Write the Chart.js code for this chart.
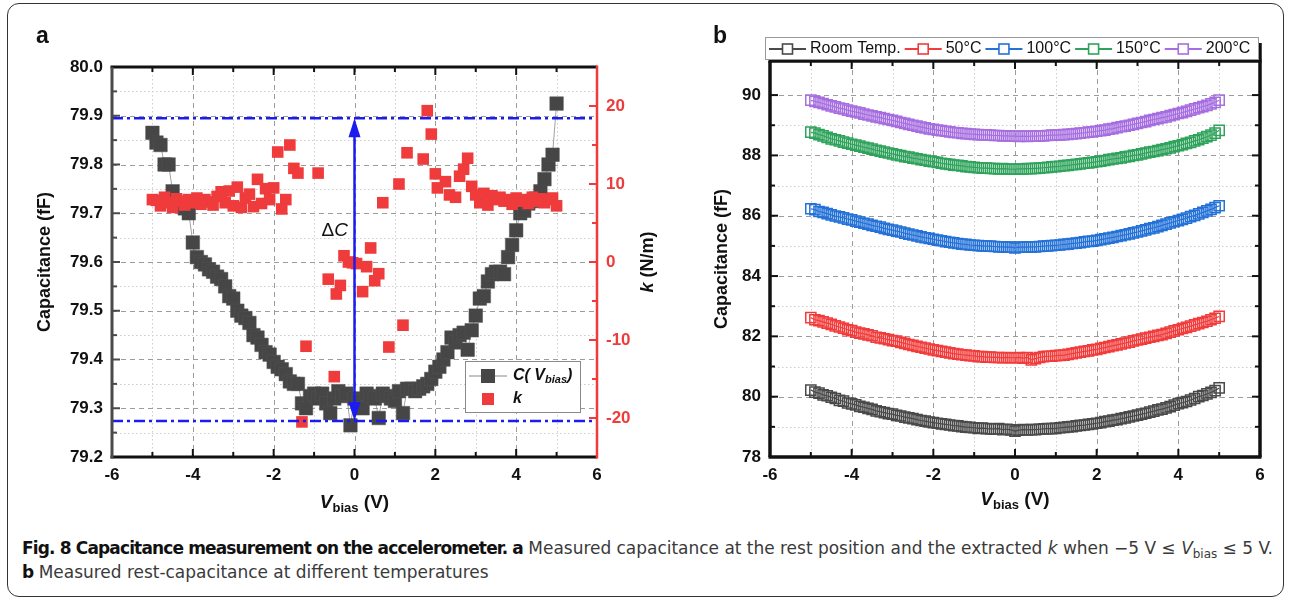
<!DOCTYPE html>
<html>
<head>
<meta charset="utf-8">
<script src="https://cdn.jsdelivr.net/npm/chart.js@4.4.1/dist/chart.umd.min.js"></script>
<style>
  body { margin: 0; width: 1291px; height: 604px; overflow: hidden; position: relative; background: #fff;
         font-family: "Liberation Sans", Arial, sans-serif; }
  #frame { position: absolute; left: 7px; top: 3px; width: 1275px; height: 592px; border: 1.5px solid #333; border-radius: 12px; }
  #ca { position: absolute; left: 0; top: 0; }
  #cb { position: absolute; left: 680px; top: 0; }
  .panel { position: absolute; font-weight: bold; font-size: 23px; color: #111; }
  #cap { position: absolute; left: 22px; top: 536px; font-family: "Liberation Sans Narrow", "DejaVu Sans Condensed", sans-serif;
         font-size: 17px; line-height: 24px; color: #3a3a3a; white-space: nowrap; transform-origin: 0 0; }
  #cap b { color: #111; letter-spacing: -0.75px; }
  #cap sub { font-size: 12px; line-height: 0; }
</style>
</head>
<body>
<div id="frame"></div>
<canvas id="ca" width="680" height="530"></canvas>
<canvas id="cb" width="611" height="530"></canvas>
<div class="panel" style="left:36px;top:22px">a</div>
<div class="panel" style="left:713px;top:22px">b</div>
<div id="cap"><b>Fig. 8 Capacitance measurement on the accelerometer. a</b> Measured capacitance at the rest position and the extracted <i>k</i> when −5 V ≤ <i>V</i><sub>bias</sub> ≤ 5 V.<br><b>b</b> Measured rest-capacitance at different temperatures</div>

<script>
// ---- data ----
const vBias = [-5.0,-4.9,-4.8,-4.7,-4.6,-4.5,-4.4,-4.3,-4.2,-4.1,-4.0,-3.9,-3.8,-3.7,-3.6,-3.5,-3.4,-3.3,-3.2,-3.1,
  -3.0,-2.9,-2.8,-2.7,-2.6,-2.5,-2.4,-2.3,-2.2,-2.1,-2.0,-1.9,-1.8,-1.7,-1.6,-1.5,-1.4,-1.3,-1.2,-1.1,
  -1.0,-0.9,-0.8,-0.7,-0.6,-0.5,-0.4,-0.3,-0.2,-0.1,0.0,0.1,0.2,0.3,0.4,0.5,0.6,0.7,0.8,0.9,
  1.0,1.1,1.2,1.3,1.4,1.5,1.6,1.7,1.8,1.9,2.0,2.1,2.2,2.3,2.4,2.5,2.6,2.7,2.8,2.9,
  3.0,3.1,3.2,3.3,3.4,3.5,3.6,3.7,3.8,3.9,4.0,4.1,4.2,4.3,4.4,4.5,4.6,4.7,4.8,4.9,5.0];

// panel a: C(Vbias), fF
const capA = [79.865,79.845,79.84,79.80,79.80,79.745,79.72,79.715,79.71,79.70,
  79.64,79.61,79.60,79.595,79.585,79.58,79.57,79.565,79.55,79.53,
  79.525,79.50,79.49,79.485,79.475,79.45,79.445,79.43,79.415,79.41,
  79.395,79.385,79.38,79.37,79.355,79.35,79.35,79.31,79.30,79.325,
  79.33,79.32,79.33,79.31,79.29,79.32,79.335,79.325,79.33,79.265,
  79.32,79.315,79.30,79.33,79.325,79.32,79.28,79.33,79.325,79.32,
  79.315,79.335,79.29,79.34,79.34,79.335,79.34,79.345,79.35,79.36,
  79.375,79.385,79.40,79.415,79.445,79.435,79.45,79.455,79.42,79.46,
  79.49,79.525,79.53,79.56,79.575,79.58,79.58,79.575,79.61,79.635,
  79.665,79.70,79.705,79.72,79.725,79.73,79.745,79.77,79.80,79.82,79.925];

// panel a: extracted k, N/m
const kBias = [-5.0,-4.9,-4.8,-4.7,-4.6,-4.5,-4.4,-4.3,-4.2,-4.1,-4.0,-3.9,-3.8,-3.7,-3.6,-3.5,-3.4,-3.3,-3.2,-3.1,
  -3.0,-2.9,-2.8,-2.7,-2.6,-2.5,-2.4,-2.3,-2.2,-2.1,-2.0,-1.9,-1.8,-1.7,-1.6,-1.5,-1.4,-1.3,-1.2,-0.9,
  -0.65,-0.5,-0.45,-0.35,-0.26,-0.15,-0.05,0.05,0.2,0.3,0.4,0.5,0.6,0.7,0.85,1.1,1.2,1.3,1.7,1.8,
  1.9,2.0,2.05,2.25,2.35,2.5,2.6,2.7,2.8,2.9,3.0,3.1,3.2,3.3,3.4,3.5,3.6,3.7,3.8,3.9,
  4.0,4.1,4.2,4.3,4.4,4.5,4.6,4.7,4.8,4.9,5.0];
const kVal = [8.0,7.9,7.2,8.3,7.6,7.0,8.1,7.8,7.3,8.0,7.6,8.2,7.4,8.0,7.7,7.3,8.4,9.0,7.6,9.1,
  7.2,9.6,7.0,8.2,8.7,7.1,10.6,7.5,9.4,8.0,9.5,14.1,6.8,8.0,15.0,12.0,11.4,-20.5,-10.8,11.4,
  -2.2,-14.7,-4.1,-3.0,0.8,0.0,-0.1,-0.2,-3.8,-0.6,1.8,-2.4,-1.5,7.6,-10.9,10.0,-8.1,14.0,13.2,19.4,
  16.4,11.3,9.5,10.3,8.6,8.3,11.0,11.9,13.3,9.7,8.6,7.6,8.8,7.3,8.5,8.0,8.3,7.8,8.0,7.4,
  8.2,7.8,8.0,7.5,8.3,7.8,8.1,7.6,8.0,8.2,7.2];

// panel a: limits of the capacitance swing (Delta C)
const deltaC = [79.274, 79.895];

// panel b: rest capacitance at each temperature, fF
const tempLabels = ['Room Temp.', '50°C', '100°C', '150°C', '200°C'];
const capRoom = [80.22,80.15,80.12,80.06,80.03,79.98,79.94,79.88,79.85,79.79,
  79.76,79.73,79.68,79.65,79.61,79.58,79.53,79.50,79.47,79.44,
  79.42,79.38,79.36,79.32,79.30,79.27,79.24,79.21,79.19,79.16,
  79.14,79.12,79.10,79.08,79.06,79.04,79.03,79.01,78.99,78.98,
  78.97,78.95,78.96,78.94,78.93,78.93,78.94,78.91,78.92,78.90,
  78.86,78.89,78.91,78.90,78.91,78.91,78.92,78.93,78.94,78.94,
  78.95,78.97,78.98,79.00,79.01,79.03,79.05,79.06,79.08,79.10,
  79.12,79.14,79.17,79.19,79.22,79.24,79.27,79.30,79.33,79.36,
  79.39,79.42,79.45,79.49,79.52,79.56,79.59,79.63,79.67,79.72,
  79.77,79.80,79.84,79.89,79.94,80.00,80.04,80.09,80.14,80.20,80.29];
const cap50 = [82.62,82.55,82.52,82.48,82.44,82.40,82.35,82.31,82.27,82.22,
  82.19,82.14,82.11,82.08,82.05,82.02,81.97,81.95,81.92,81.89,
  81.86,81.84,81.80,81.77,81.73,81.70,81.67,81.64,81.61,81.58,
  81.55,81.53,81.50,81.48,81.45,81.43,81.41,81.39,81.38,81.36,
  81.35,81.33,81.33,81.31,81.31,81.30,81.30,81.29,81.30,81.29,
  81.29,81.30,81.28,81.30,81.22,81.26,81.30,81.33,81.34,81.34,
  81.36,81.37,81.38,81.40,81.43,81.45,81.48,81.50,81.52,81.55,
  81.57,81.60,81.63,81.66,81.69,81.72,81.75,81.78,81.81,81.85,
  81.88,81.91,81.94,81.97,82.00,82.03,82.06,82.10,82.14,82.18,
  82.22,82.26,82.30,82.34,82.38,82.42,82.46,82.50,82.55,82.60,82.66];
const cap100 = [86.23,86.20,86.14,86.11,86.07,86.03,85.99,85.96,85.93,85.89,
  85.86,85.82,85.79,85.75,85.72,85.68,85.65,85.62,85.58,85.55,
  85.52,85.49,85.46,85.42,85.39,85.36,85.33,85.30,85.27,85.25,
  85.22,85.19,85.17,85.14,85.12,85.10,85.08,85.06,85.05,85.03,
  85.02,85.01,85.00,84.99,84.99,84.98,84.97,84.97,84.96,84.96,
  84.93,84.96,84.96,84.96,84.97,84.97,84.98,84.99,85.00,85.01,
  85.02,85.03,85.05,85.06,85.08,85.09,85.11,85.13,85.15,85.16,
  85.18,85.21,85.23,85.26,85.28,85.31,85.34,85.37,85.40,85.43,
  85.46,85.50,85.53,85.57,85.60,85.64,85.68,85.72,85.76,85.80,
  85.84,85.88,85.92,85.97,86.01,86.06,86.11,86.16,86.21,86.27,86.33];
const cap150 = [88.77,88.74,88.69,88.65,88.60,88.55,88.52,88.48,88.44,88.41,
  88.37,88.34,88.31,88.27,88.24,88.21,88.17,88.14,88.11,88.08,
  88.05,88.02,87.99,87.96,87.94,87.91,87.89,87.86,87.84,87.81,
  87.79,87.77,87.74,87.72,87.70,87.68,87.67,87.65,87.63,87.62,
  87.60,87.59,87.58,87.58,87.57,87.56,87.55,87.56,87.55,87.54,
  87.54,87.55,87.55,87.56,87.56,87.57,87.58,87.59,87.60,87.62,
  87.63,87.64,87.66,87.67,87.69,87.70,87.72,87.74,87.75,87.77,
  87.79,87.81,87.83,87.86,87.88,87.90,87.92,87.95,87.97,88.00,
  88.02,88.05,88.08,88.11,88.13,88.16,88.19,88.22,88.25,88.29,
  88.32,88.36,88.40,88.43,88.48,88.52,88.57,88.62,88.67,88.74,88.83];
const cap200 = [89.83,89.79,89.76,89.72,89.68,89.64,89.61,89.57,89.54,89.50,
  89.47,89.44,89.41,89.37,89.34,89.31,89.28,89.25,89.22,89.19,
  89.16,89.13,89.09,89.06,89.03,89.00,88.97,88.94,88.91,88.88,
  88.86,88.84,88.82,88.80,88.78,88.76,88.75,88.73,88.72,88.71,
  88.70,88.69,88.68,88.68,88.67,88.66,88.66,88.65,88.65,88.64,
  88.64,88.63,88.64,88.63,88.64,88.64,88.65,88.65,88.66,88.67,
  88.67,88.68,88.69,88.70,88.71,88.72,88.74,88.75,88.77,88.78,
  88.80,88.82,88.84,88.87,88.89,88.92,88.95,88.97,89.00,89.03,
  89.06,89.09,89.12,89.16,89.19,89.22,89.25,89.28,89.32,89.35,
  89.39,89.42,89.46,89.50,89.54,89.58,89.62,89.66,89.71,89.76,89.83];

// ticks
const vTicks = [-6, -4, -2, 0, 2, 4, 6];
const vMinor = [-5, -3, -1, 1, 3, 5];
const capTicksA = [79.2, 79.3, 79.4, 79.5, 79.6, 79.7, 79.8, 79.9, 80.0];
const capMinorA = [79.25, 79.35, 79.45, 79.55, 79.65, 79.75, 79.85, 79.95];
const kTicks = [-20, -10, 0, 10, 20];
const kMinor = [-15, -5, 5, 15];
const capTicksB = [78, 80, 82, 84, 86, 88, 90];
const capMinorB = [79, 81, 83, 85, 87, 89];

const colA = { cap: '#464646', k: '#ef3b3b', delta: '#1c1cf0' };
const colB = ['#4a4a4a', '#f23c3c', '#2472d8', '#2fa35c', '#a66ee0'];

// ---- helpers ----
const FAM = '"Liberation Sans", Arial, sans-serif';
const tickFont = { family: FAM, size: 17, weight: 'bold' };
const pts = (xs, ys) => xs.map((x, i) => ({ x: x, y: ys[i] }));
const fixTicks = vals => scale => { scale.ticks = vals.map(v => ({ value: v })); };

function vline(ctx, x, y1, y2) { ctx.beginPath(); ctx.moveTo(x, y1); ctx.lineTo(x, y2); ctx.stroke(); }
function hline(ctx, y, x1, x2) { ctx.beginPath(); ctx.moveTo(x1, y); ctx.lineTo(x2, y); ctx.stroke(); }

function drawGrid(chart, xName, yName, xMaj, xMin, yMaj, yMin) {
  const { ctx, chartArea: a } = chart;
  const sx = chart.scales[xName], sy = chart.scales[yName];
  ctx.save();
  ctx.lineWidth = 1;
  ctx.setLineDash([1.5, 2.5]);
  ctx.strokeStyle = '#cdcdcd';
  xMin.forEach(v => vline(ctx, Math.round(sx.getPixelForValue(v)) + 0.5, a.top, a.bottom));
  yMin.forEach(v => hline(ctx, Math.round(sy.getPixelForValue(v)) + 0.5, a.left, a.right));
  ctx.setLineDash([5, 4]);
  ctx.strokeStyle = '#9c9c9c';
  xMaj.forEach(v => vline(ctx, Math.round(sx.getPixelForValue(v)) + 0.5, a.top, a.bottom));
  yMaj.forEach(v => hline(ctx, Math.round(sy.getPixelForValue(v)) + 0.5, a.left, a.right));
  ctx.restore();
}

// inward tick marks along one edge
function drawTicks(ctx, scale, vals, edge, dir, len, horizontal) {
  vals.forEach(v => {
    const p = scale.getPixelForValue(v);
    ctx.beginPath();
    if (horizontal) { ctx.moveTo(p, edge); ctx.lineTo(p, edge + dir * len); }
    else { ctx.moveTo(edge, p); ctx.lineTo(edge + dir * len, p); }
    ctx.stroke();
  });
}

function drawRich(ctx, parts, x, y) {
  let w = 0;
  parts.forEach(p => { ctx.font = p.f; p.w = ctx.measureText(p.t).width; w += p.w; });
  let cx = x - w / 2;
  parts.forEach(p => { ctx.font = p.f; ctx.fillText(p.t, cx, y + (p.dy || 0)); cx += p.w; });
}

function vbiasTitle(ctx, x, y) {
  ctx.fillStyle = '#111';
  drawRich(ctx, [
    { t: 'V', f: 'italic bold 19px ' + FAM },
    { t: 'bias', f: 'bold 13px ' + FAM, dy: 5 },
    { t: ' (V)', f: 'bold 19px ' + FAM }
  ], x, y);
}

function squareSym(ctx, x, y, size, fill, stroke, lw) {
  ctx.save();
  ctx.setLineDash([]);
  if (fill) { ctx.fillStyle = fill; ctx.fillRect(x - size / 2, y - size / 2, size, size); }
  if (stroke) { ctx.strokeStyle = stroke; ctx.lineWidth = lw; ctx.strokeRect(x - size / 2, y - size / 2, size, size); }
  ctx.restore();
}

// ---- panel a ----
const decoA = {
  id: 'decoA',
  beforeDatasetsDraw(chart) {
    drawGrid(chart, 'x', 'y', vTicks.slice(1, -1), vMinor, capTicksA.slice(1, -1), capMinorA);
  },
  afterDatasetsDraw(chart) {
    const { ctx, chartArea: a, scales: s } = chart;
    ctx.save();
    // Delta C guide lines
    ctx.strokeStyle = colA.delta;
    ctx.lineWidth = 2.5;
    ctx.setLineDash([11, 4, 3, 4]);
    deltaC.forEach(v => hline(ctx, s.y.getPixelForValue(v), a.left, a.right));
    ctx.setLineDash([]);
    const x0 = s.x.getPixelForValue(0);
    const yLo = s.y.getPixelForValue(deltaC[0]), yHi = s.y.getPixelForValue(deltaC[1]);
    ctx.lineWidth = 2.5;
    vline(ctx, x0, yHi + 16, yLo - 16);
    ctx.fillStyle = colA.delta;
    ctx.beginPath(); ctx.moveTo(x0, yHi); ctx.lineTo(x0 - 6, yHi + 19); ctx.lineTo(x0 + 6, yHi + 19); ctx.closePath(); ctx.fill();
    ctx.beginPath(); ctx.moveTo(x0, yLo); ctx.lineTo(x0 - 6, yLo - 19); ctx.lineTo(x0 + 6, yLo - 19); ctx.closePath(); ctx.fill();
    // Delta C label
    ctx.fillStyle = '#111';
    ctx.textBaseline = 'middle';
    ctx.textAlign = 'left';
    ctx.font = '19px ' + FAM;
    const wD = ctx.measureText('Δ').width;
    const yT = s.y.getPixelForValue(79.665);
    ctx.fillText('Δ', x0 - 33, yT);
    ctx.font = 'italic 19px ' + FAM;
    ctx.fillText('C', x0 - 33 + wD, yT);

    // frame
    ctx.lineWidth = 3;
    ctx.strokeStyle = '#111';
    hline(ctx, a.top, a.left - 1.5, a.right);
    hline(ctx, a.bottom, a.left - 1.5, a.right);
    ctx.strokeStyle = '#4a4a4a';
    vline(ctx, a.left, a.top, a.bottom + 1.5);
    ctx.strokeStyle = colA.k;
    ctx.lineWidth = 2.5;
    vline(ctx, a.right, a.top - 1.5, a.bottom + 1.5);
    // ticks
    ctx.lineWidth = 2;
    ctx.strokeStyle = '#111';
    drawTicks(ctx, s.x, vTicks.slice(1, -1), a.top, 1, 8, true);
    drawTicks(ctx, s.x, vMinor, a.top, 1, 5, true);
    drawTicks(ctx, s.x, vTicks.slice(1, -1), a.bottom, -1, 8, true);
    drawTicks(ctx, s.x, vMinor, a.bottom, -1, 5, true);
    ctx.strokeStyle = '#4a4a4a';
    drawTicks(ctx, s.y, capTicksA.slice(1, -1), a.left, 1, 8, false);
    drawTicks(ctx, s.y, capMinorA, a.left, 1, 5, false);
    ctx.strokeStyle = colA.k;
    drawTicks(ctx, s.k, kTicks, a.right, -1, 8, false);
    drawTicks(ctx, s.k, kMinor, a.right, -1, 5, false);

    // axis titles
    ctx.fillStyle = '#111';
    vbiasTitle(ctx, (a.left + a.right) / 2, 503);
    ctx.save();
    ctx.translate(45, (a.top + a.bottom) / 2);
    ctx.rotate(-Math.PI / 2);
    drawRich(ctx, [{ t: 'Capacitance (fF)', f: 'bold 18px ' + FAM }], 0, 0);
    ctx.restore();
    ctx.save();
    ctx.translate(648, (a.top + a.bottom) / 2);
    ctx.rotate(-Math.PI / 2);
    drawRich(ctx, [{ t: 'k', f: 'italic bold 18px ' + FAM }, { t: ' (N/m)', f: 'bold 18px ' + FAM }], 0, 0);
    ctx.restore();

    // legend
    const lx = a.right - 132, ly = 361;
    ctx.fillStyle = '#fff';
    ctx.fillRect(lx, ly, 115, 51);
    ctx.strokeStyle = '#8a8a8a';
    ctx.lineWidth = 1;
    ctx.strokeRect(lx + 0.5, ly + 0.5, 115, 51);
    ctx.strokeStyle = '#8a8a8a';
    hline(ctx, ly + 15, lx + 4, lx + 42);
    squareSym(ctx, lx + 23, ly + 15, 14, colA.cap);
    squareSym(ctx, lx + 23, ly + 38, 12, colA.k);
    ctx.fillStyle = '#111';
    ctx.textAlign = 'left';
    let tx = lx + 48;
    [['C( ', 'italic bold 16px '], ['V', 'italic bold 16px ']].forEach(p => {
      ctx.font = p[1] + FAM; ctx.fillText(p[0], tx, ly + 15); tx += ctx.measureText(p[0]).width;
    });
    ctx.font = 'italic bold 11px ' + FAM; ctx.fillText('bias', tx, ly + 19); tx += ctx.measureText('bias').width;
    ctx.font = 'italic bold 16px ' + FAM; ctx.fillText(')', tx, ly + 15);
    ctx.fillText('k', lx + 48, ly + 38);
    ctx.restore();
  }
};

new Chart(document.getElementById('ca'), {
  type: 'scatter',
  data: {
    datasets: [
      { label: 'k', data: pts(kBias, kVal), yAxisID: 'k', showLine: false, pointStyle: 'rect',
        pointRadius: 8.2, backgroundColor: colA.k, borderColor: colA.k, borderWidth: 0 },
      { label: 'C(Vbias)', data: pts(vBias, capA), yAxisID: 'y', showLine: true, borderColor: '#8a8a8a',
        borderWidth: 0.8, pointStyle: 'rect', pointRadius: 9.6, pointBackgroundColor: colA.cap,
        pointBorderColor: '#555', pointBorderWidth: 0.5 }
    ]
  },
  options: {
    responsive: false, animation: false, events: [],
    layout: { padding: { top: 67, left: 0, right: 0, bottom: 0 } },
    plugins: { legend: { display: false }, tooltip: { enabled: false } },
    scales: {
      x: { type: 'linear', min: -6, max: 6, afterBuildTicks: fixTicks(vTicks), afterFit: s => { s.height = 73; },
           grid: { display: false, drawTicks: false }, border: { display: false },
           ticks: { font: tickFont, color: '#111', padding: 8, callback: v => String(v) } },
      y: { type: 'linear', position: 'left', min: 79.2, max: 80.0, afterBuildTicks: fixTicks(capTicksA),
           afterFit: s => { s.width = 112; }, grid: { display: false, drawTicks: false }, border: { display: false },
           ticks: { font: tickFont, color: '#111', padding: 9, callback: v => v.toFixed(1) } },
      k: { type: 'linear', position: 'right', min: -25, max: 25, afterBuildTicks: fixTicks(kTicks),
           afterFit: s => { s.width = 83; }, grid: { display: false, drawTicks: false }, border: { display: false },
           ticks: { font: tickFont, color: colA.k, padding: 9, callback: v => String(v) } }
    }
  },
  plugins: [decoA]
});

// ---- panel b ----
const decoB = {
  id: 'decoB',
  beforeDatasetsDraw(chart) {
    drawGrid(chart, 'x', 'y', vTicks.slice(1, -1), vMinor, capTicksB.slice(1), capMinorB);
  },
  afterDatasetsDraw(chart) {
    const { ctx, chartArea: a, scales: s } = chart;
    ctx.save();
    ctx.lineWidth = 3.5;
    ctx.strokeStyle = '#111';
    hline(ctx, a.top, a.left - 1.5, a.right + 1.5);
    hline(ctx, a.bottom, a.left - 1.5, a.right + 1.5);
    vline(ctx, a.left, a.top, a.bottom);
    vline(ctx, a.right, a.top - 18, a.bottom);
    ctx.lineWidth = 2;
    drawTicks(ctx, s.x, vTicks.slice(1, -1), a.top, 1, 8, true);
    drawTicks(ctx, s.x, vMinor, a.top, 1, 5, true);
    drawTicks(ctx, s.x, vTicks.slice(1, -1), a.bottom, -1, 8, true);
    drawTicks(ctx, s.x, vMinor, a.bottom, -1, 5, true);
    drawTicks(ctx, s.y, capTicksB.slice(1), a.left, 1, 8, false);
    drawTicks(ctx, s.y, capMinorB, a.left, 1, 5, false);
    drawTicks(ctx, s.y, capTicksB.slice(1), a.right, -1, 8, false);
    drawTicks(ctx, s.y, capMinorB, a.right, -1, 5, false);

    ctx.textBaseline = 'middle';
    vbiasTitle(ctx, (a.left + a.right) / 2, 500);
    ctx.save();
    ctx.translate(42, (a.top + a.bottom) / 2);
    ctx.rotate(-Math.PI / 2);
    drawRich(ctx, [{ t: 'Capacitance (fF)', f: 'bold 18px ' + FAM }], 0, 0);
    ctx.restore();

    // legend row above the plot
    const lx = a.left - 5, ly = 37, lw = a.right - a.left + 3, lh = 22;
    ctx.fillStyle = '#fff';
    ctx.fillRect(lx, ly, lw, lh);
    ctx.strokeStyle = '#9a9a9a';
    ctx.lineWidth = 1;
    ctx.strokeRect(lx + 0.5, ly + 0.5, lw, lh);
    ctx.font = '16px ' + FAM;
    ctx.textAlign = 'left';
    let x = lx + 4;
    const yc = ly + lh / 2 + 1;
    tempLabels.forEach((t, i) => {
      ctx.strokeStyle = colB[i];
      ctx.lineWidth = 2;
      hline(ctx, yc, x, x + 37);
      squareSym(ctx, x + 18.5, yc, 10, '#fff', colB[i], 1.6);
      ctx.fillStyle = '#111';
      ctx.font = '16px ' + FAM;
      ctx.fillText(t, x + 41, yc);
      x += 41 + ctx.measureText(t).width + 4;
    });
    ctx.restore();
  }
};

const seriesB = [capRoom, cap50, cap100, cap150, cap200];
new Chart(document.getElementById('cb'), {
  type: 'scatter',
  data: {
    datasets: seriesB.map((ys, i) => ({
      label: tempLabels[i], data: pts(vBias, ys), showLine: true, borderColor: colB[i], borderWidth: 1.2,
      pointStyle: 'rect', pointRadius: 7.2, pointBackgroundColor: 'rgba(255,255,255,0)',
      pointBorderColor: colB[i], pointBorderWidth: 1.5
    }))
  },
  options: {
    responsive: false, animation: false, events: [],
    layout: { padding: { top: 61, left: 0, right: 31, bottom: 0 } },
    plugins: { legend: { display: false }, tooltip: { enabled: false } },
    scales: {
      x: { type: 'linear', min: -6, max: 6, afterBuildTicks: fixTicks(vTicks), afterFit: s => { s.height = 73; },
           grid: { display: false, drawTicks: false }, border: { display: false },
           ticks: { font: tickFont, color: '#111', padding: 8, callback: v => String(v) } },
      y: { type: 'linear', position: 'left', min: 78, max: 91.13, afterBuildTicks: fixTicks(capTicksB),
           afterFit: s => { s.width = 90; }, grid: { display: false, drawTicks: false }, border: { display: false },
           ticks: { font: tickFont, color: '#111', padding: 9, callback: v => String(v) } }
    }
  },
  plugins: [decoB]
});

// fit caption's first line to the figure width
const cap = document.getElementById('cap');
cap.style.transform = 'scaleX(' + (1251 / cap.getBoundingClientRect().width) + ')';
</script>
</body>
</html>
